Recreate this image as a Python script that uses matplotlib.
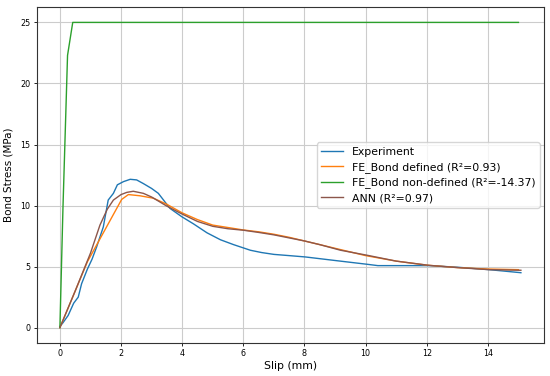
import matplotlib
matplotlib.use("Agg")
import matplotlib.pyplot as plt

# ── Data ──────────────────────────────────────────────────────────────────────
exp_x = [0.0, 0.1, 0.27, 0.45, 0.6, 0.71, 0.9, 1.05, 1.2, 1.42, 1.58, 1.75, 1.88,
         2.08, 2.3, 2.51, 2.73, 3.0, 3.22, 3.39, 3.6, 3.99, 4.37, 4.81, 5.25,
         5.68, 6.23, 6.6, 7.0, 7.5, 8.03, 9.0, 10.05, 10.4, 11.0, 12.08, 13.0,
         14.04, 15.08]
exp_y = [0.1, 0.4, 1.0, 2.0, 2.5, 3.6, 4.8, 5.6, 6.6, 8.25, 10.45, 11.0, 11.7,
         11.96, 12.15, 12.1, 11.8, 11.4, 11.0, 10.45, 9.77, 9.08, 8.5, 7.77, 7.2,
         6.8, 6.34, 6.15, 6.0, 5.9, 5.79, 5.5, 5.19, 5.08, 5.08, 5.08, 4.95,
         4.75, 4.5]

fe_def_x = [0.0, 0.9, 2.02, 2.24, 2.62, 3.06, 3.5, 4.0, 4.5, 5.0, 5.5, 6.0, 6.5,
            7.0, 7.5, 8.0, 8.5, 9.0, 9.5, 10.0, 11.0, 12.0, 13.0, 14.0, 15.0]
fe_def_y = [0.0, 5.4, 10.5, 10.9, 10.8, 10.6, 10.1, 9.4, 8.85, 8.4, 8.2, 8.0,
            7.85, 7.65, 7.4, 7.1, 6.8, 6.5, 6.2, 5.9, 5.45, 5.12, 4.92, 4.8, 4.75]

fe_non_x = [0.0, 0.1, 0.25, 0.42, 15.0]
fe_non_y = [0.0, 9.8, 22.3, 25.0, 25.0]

ann_x = [0.0, 0.5, 1.0, 1.31, 1.55, 1.75, 2.0, 2.19, 2.4, 2.73, 3.0, 3.5, 4.0,
         4.5, 5.0, 5.5, 6.0, 6.5, 7.0, 7.5, 8.0, 8.5, 9.18, 10.05, 11.0, 12.08,
         13.0, 14.04, 15.08]
ann_y = [0.0, 3.0, 6.1, 8.4, 9.7, 10.45, 10.9, 11.08, 11.17, 11.0, 10.7, 9.95,
         9.3, 8.7, 8.3, 8.1, 7.98, 7.8, 7.6, 7.35, 7.1, 6.8, 6.34, 5.93, 5.45,
         5.1, 4.92, 4.75, 4.7]

# ── Plot ──────────────────────────────────────────────────────────────────────
fig = plt.figure(figsize=(5.5, 3.76), dpi=100)
ax = fig.add_axes([0.067, 0.088, 0.922, 0.893])

ax.plot(exp_x, exp_y, color="tab:blue", linewidth=1.0, label="Experiment")
ax.plot(fe_def_x, fe_def_y, color="tab:orange", linewidth=1.0,
        label="FE_Bond defined (R²=0.93)")
ax.plot(fe_non_x, fe_non_y, color="tab:green", linewidth=1.0,
        label="FE_Bond non-defined (R²=-14.37)")
ax.plot(ann_x, ann_y, color="tab:brown", linewidth=1.0, label="ANN (R²=0.97)")

ax.set_xlabel("Slip (mm)", fontsize=7.8, labelpad=2)
ax.set_ylabel("Bond Stress (MPa)", fontsize=7.5, labelpad=5)
ax.tick_params(labelsize=5.8, length=2.5, width=0.6, pad=2)
ax.set_xticks([0, 2, 4, 6, 8, 10, 12, 14])
ax.set_yticks([0, 5, 10, 15, 20, 25])
ax.grid(True, color="#cccccc", linewidth=0.8)
ax.set_axisbelow(True)
for sp in ax.spines.values():
    sp.set_linewidth(0.8)
    sp.set_color("#333333")

ax.legend(loc="center right", fontsize=7.8, handlelength=2.0,
          borderaxespad=0.4, labelspacing=0.45, borderpad=0.4)

plt.savefig("out.png", dpi=100)
